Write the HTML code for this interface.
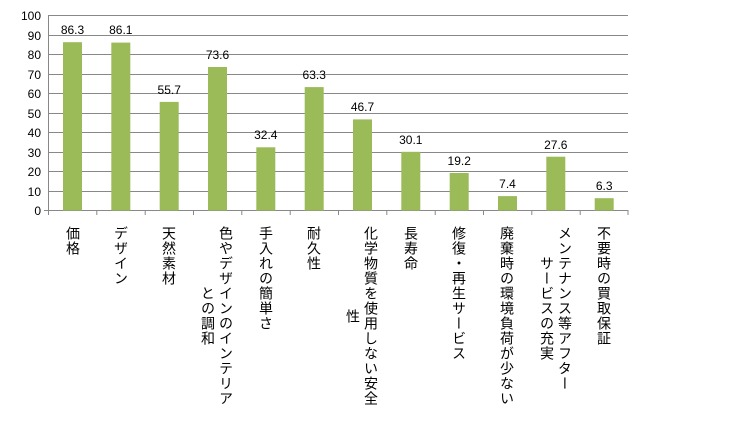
<!DOCTYPE html>
<html><head><meta charset="utf-8"><style>
body{margin:0;background:#fff;width:730px;height:425px;overflow:hidden;position:relative;font-family:"Liberation Sans","Noto Sans CJK JP",sans-serif}
.lab{position:absolute;top:226px;writing-mode:vertical-rl;text-align:center;font-size:14px;letter-spacing:1px;line-height:18px;color:#000;font-family:"Noto Sans CJK JP",sans-serif;transform:translateX(-50%);white-space:nowrap}
</style></head><body>
<svg width="730" height="425" style="position:absolute;left:0;top:0" font-family="Liberation Sans, sans-serif" font-size="12">
<g stroke="#888" stroke-width="1">
<line x1="48" y1="15.5" x2="628" y2="15.5"/><line x1="48" y1="35.5" x2="628" y2="35.5"/><line x1="48" y1="54.5" x2="628" y2="54.5"/><line x1="48" y1="74.5" x2="628" y2="74.5"/><line x1="48" y1="93.5" x2="628" y2="93.5"/><line x1="48" y1="113.5" x2="628" y2="113.5"/><line x1="48" y1="132.5" x2="628" y2="132.5"/><line x1="48" y1="152.5" x2="628" y2="152.5"/><line x1="48" y1="171.5" x2="628" y2="171.5"/><line x1="48" y1="191.5" x2="628" y2="191.5"/>
<line x1="48.5" y1="15" x2="48.5" y2="215"/><line x1="44" y1="210.5" x2="628" y2="210.5"/>
</g>
<g stroke="#888"><line x1="96.8" y1="210" x2="96.8" y2="215"/><line x1="145.2" y1="210" x2="145.2" y2="215"/><line x1="193.5" y1="210" x2="193.5" y2="215"/><line x1="241.8" y1="210" x2="241.8" y2="215"/><line x1="290.2" y1="210" x2="290.2" y2="215"/><line x1="338.5" y1="210" x2="338.5" y2="215"/><line x1="386.8" y1="210" x2="386.8" y2="215"/><line x1="435.2" y1="210" x2="435.2" y2="215"/><line x1="483.5" y1="210" x2="483.5" y2="215"/><line x1="531.8" y1="210" x2="531.8" y2="215"/><line x1="580.2" y1="210" x2="580.2" y2="215"/><line x1="628" y1="210" x2="628" y2="215"/></g>
<g text-anchor="end" fill="#000"><text x="41" y="20">100</text><text x="41" y="40">90</text><text x="41" y="59">80</text><text x="41" y="79">70</text><text x="41" y="98">60</text><text x="41" y="118">50</text><text x="41" y="137">40</text><text x="41" y="157">30</text><text x="41" y="176">20</text><text x="41" y="196">10</text><text x="41" y="215">0</text></g>
<g fill="#9bbb59">
<rect x="63" y="42.2" width="19" height="168.3"/><rect x="111.3" y="42.6" width="19" height="167.9"/><rect x="159.7" y="101.9" width="19" height="108.6"/><rect x="208" y="67" width="19" height="143.5"/><rect x="256.3" y="147.3" width="19" height="63.2"/><rect x="304.7" y="87.1" width="19" height="123.4"/><rect x="353" y="119.4" width="19" height="91.1"/><rect x="401.3" y="151.8" width="19" height="58.7"/><rect x="449.7" y="173" width="19" height="37.5"/><rect x="498" y="196.1" width="19" height="14.4"/><rect x="546.3" y="156.7" width="19" height="53.8"/><rect x="594.7" y="198.2" width="19" height="12.3"/>
</g>
<g text-anchor="middle" fill="#000">
<text x="72.5" y="34">86.3</text><text x="120.8" y="34">86.1</text><text x="169.2" y="94">55.7</text><text x="217.5" y="59">73.6</text><text x="265.8" y="139">32.4</text><text x="314.2" y="79">63.3</text><text x="362.5" y="111">46.7</text><text x="410.8" y="144">30.1</text><text x="459.2" y="165">19.2</text><text x="507.5" y="188">7.4</text><text x="555.8" y="149">27.6</text><text x="604.2" y="190">6.3</text>
</g>
</svg>
<div class="lab" style="left:73px">価格</div>
<div class="lab" style="left:121px">デザイン</div>
<div class="lab" style="left:169px">天然素材</div>
<div class="lab" style="left:217px">色やデザインのインテリア<br>との調和</div>
<div class="lab" style="left:266px">手入れの簡単さ</div>
<div class="lab" style="left:314px">耐久性</div>
<div class="lab" style="left:362px">化学物質を使用しない安全<br>性</div>
<div class="lab" style="left:411px">長寿命</div>
<div class="lab" style="left:459px">修復・再生サービス</div>
<div class="lab" style="left:507px">廃棄時の環境負荷が少ない</div>
<div class="lab" style="left:556px">メンテナンス等アフター<br>サービスの充実</div>
<div class="lab" style="left:604px">不要時の買取保証</div>
</body></html>
